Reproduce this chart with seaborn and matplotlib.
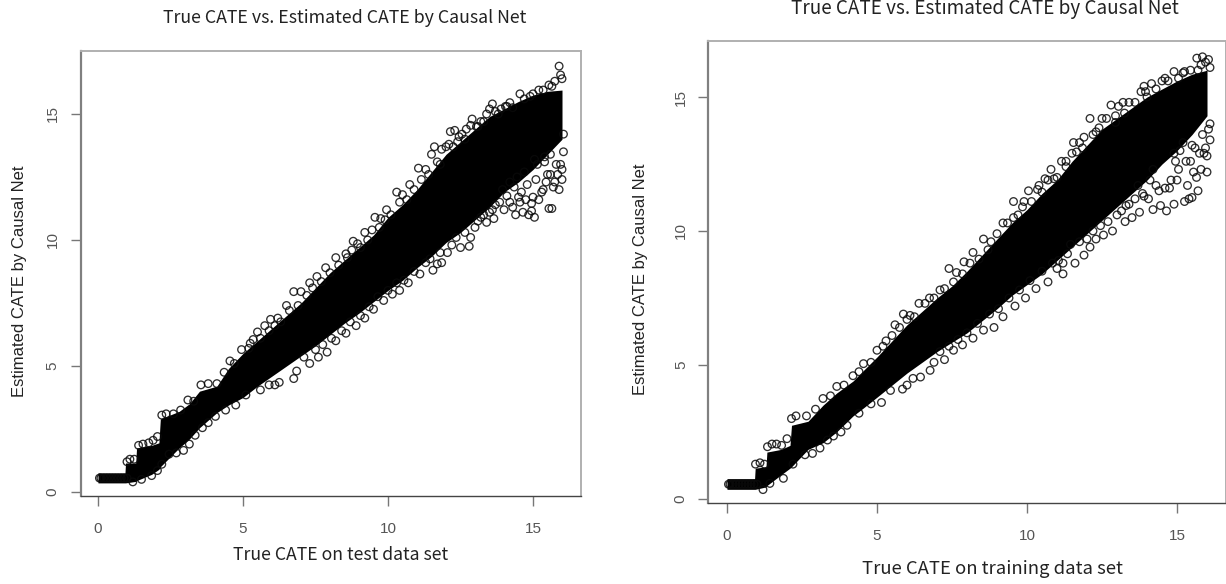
import matplotlib
matplotlib.use("Agg")
import matplotlib.pyplot as plt
import seaborn as sns

sns.set_style("white")
plt.rcParams['font.family'] = ['Noto Sans CJK SC', 'DejaVu Sans']

W, H = 1226, 584
TITLE = "True CATE vs. Estimated CATE by Causal Net"
YLABEL = "Estimated CATE by Causal Net"
XLABEL_TEST = "True CATE on test data set"
XLABEL_TRAIN = "True CATE on training data set"
TICKS_X = [0, 5, 10, 15]
TICKS_Y = [0, 5, 10, 15]

# Solid core of the cloud: true CATE, lower and upper estimate
test_core_x = [0.0,0.93,0.95,1.3,1.33,1.85,2.1,2.15,2.8,3.15,3.5,4.1,4.5,5,5.5,6,6.5,7,7.5,8,8.5,9,9.5,10,10.5,11,11.5,12,12.5,13,13.5,14,14.5,15,15.5,16]
test_core_lo = [.36,.36,.36,.42,.45,.7,.9,1.0,1.75,2.1,2.55,3.15,3.45,3.75,4.2,4.6,5.0,5.4,5.8,6.25,6.7,7.1,7.55,8.0,8.4,8.9,9.35,9.9,10.3,10.8,11.3,11.9,12.3,12.8,13.4,14.0]
test_core_hi = [.76,.76,1.15,1.15,1.75,1.85,1.95,2.9,3.2,3.5,4.0,4.2,4.9,5.5,6.0,6.5,7.0,7.5,8.1,8.7,9.2,9.7,10.2,10.9,11.4,12.0,12.7,13.4,13.9,14.4,14.9,15.2,15.5,15.75,15.9,15.95]

train_core_x = [0.0,.92,.94,1.3,1.33,1.8,2.1,2.15,2.7,3.2,3.65,4.2,4.55,5,5.5,6,6.5,7,7.5,8,8.5,9,9.5,10,10.5,11,11.5,12,12.5,13,13.5,14,14.5,15,15.5,16]
train_core_lo = [.36,.36,.36,.45,.5,.9,1.15,1.2,1.85,2.1,2.5,3.1,3.4,3.8,4.25,4.7,5.1,5.5,5.85,6.2,6.65,7.1,7.6,8.0,8.4,8.9,9.4,9.9,10.4,10.9,11.4,11.9,12.5,13.0,13.6,14.3]
train_core_hi = [.76,.76,1.15,1.2,1.75,1.85,2.0,2.75,2.9,3.5,3.95,4.4,4.8,5.3,5.9,6.5,7.0,7.5,7.95,8.5,9.1,9.7,10.3,10.8,11.4,11.9,12.6,13.2,13.8,14.2,14.6,15.0,15.3,15.6,15.85,16.0]

# Individually visible open circles around the core
test_x = [0.05,0.1,.2,.3,.4,.5,.6,.7,.8,.9,1.0,1.0,1.1,1.25,1.4,1.55,1.75,1.9,2.05,2.2,2.35,2.6,2.85,3.1,3.3,3.55,3.8,4.1,4.35,4.55,4.7,4.95,5.25,5.5,5.35,5.75,5.95,6.2,6.5,6.75,7,7.3,7.55,7.85,8.2,8.55,8.8,8.95,9.2,9.55,9.75,9.95,10.3,10.5,10.75,11.05,11.3,11.6,11.5,11.85,12.15,12.3,12.55,12.9,13.2,13.6,13.9,14.2,14.55,14.9,15.2,15.55,15.75,15.9,15.95,16.0,
          12.0,12.4,12.7,13.1,13.4,13.7,14.1,
          1.2,1.5,1.85,2.05,2.2,2.45,2.7,2.95,3.15,3.35,3.6,3.8,4.05,4.4,4.75,5.1,5.6,5.9,6.1,6.25,6.75,6.85,7.3,7.6,7.9,8.2,8.55,8.9,9.2,9.5,9.85,10.15,10.4,10.7,11.1,11.55,11.7,11.85,12.05,12.5,12.8,12.85,13.0,13.4,13.65,14.0,14.4,14.65,14.85,15.05,14.95,15.55,15.65,15.9,16.0,16.0,15.8,15.4,15.6,15.1,14.6,14.2,14.8,15.3,15.75,16.05,16.05,13.7,14.35,15.0,15.45,14.55,13.2,13.5]
test_y = [.55,.55,.55,.55,.55,.55,.55,.55,.55,.55,.55,1.2,1.3,1.3,1.85,1.9,1.95,2.05,2.2,3.05,3.1,3.1,3.25,3.65,3.6,4.25,4.3,4.3,4.75,5.2,5.1,5.65,5.9,6.35,6.05,6.6,6.85,6.9,7.4,7.95,7.95,8.3,8.55,8.9,9.3,9.45,9.95,9.85,10.3,10.9,10.85,11.2,11.9,11.8,12.2,12.85,12.8,13.7,13.4,13.6,14.3,14.35,14.2,14.8,14.7,15.4,15.2,15.45,15.8,15.7,15.95,16.15,16.3,16.9,16.55,16.4,
          13.7,13.9,14.4,14.5,15.0,15.1,15.3,
          .4,.5,.65,.85,1.1,1.5,1.55,1.65,1.9,2.25,2.55,2.75,3.0,3.25,3.45,3.85,4.05,4.25,4.25,4.35,4.5,4.8,5.1,5.35,5.55,6.0,6.3,6.6,6.9,7.25,7.6,7.85,8.0,8.3,8.65,8.8,9.05,9.1,9.5,9.7,9.75,10.1,10.5,10.7,10.85,11.2,11.0,11.1,11.0,10.9,11.15,11.25,11.25,12.0,12.4,12.8,13.0,13.1,12.6,12.4,11.9,11.5,12.2,11.9,12.3,13.5,14.2,11.4,12.1,11.7,12.3,11.5,10.9,11.1]

# Circles between the core and the outer ones
test_upper_x = [5.2,5.6,5.9,6.1,6.3,6.6,6.9,7.2,7.4,7.7,8.0,8.3,8.6,8.75,9.05,9.3,9.45,9.7,9.9,10.1,10.4,10.65,10.9,11.15,11.4,11.7,11.8,12.1,12.25,12.45,12.65,12.85,13.05,13.3,13.5,13.8,14.05,14.3,14.7,15.0,15.35,15.65]
test_upper_y = [5.7,6.1,6.4,6.6,6.75,7.2,7.4,7.8,8.1,8.35,8.7,9.0,9.3,9.6,9.7,10.0,10.4,10.5,10.8,11.0,11.5,11.6,12.0,12.4,12.6,13.1,13.0,13.8,13.7,14.1,14.0,14.55,14.5,14.7,15.2,15.0,15.3,15.25,15.6,15.8,15.95,16.1]
test_lower_x = [7.1,7.5,7.75,8.05,8.4,8.7,9.05,9.35,9.65,10.0,10.3,10.55,10.9,11.3,11.45,11.8,12.2,12.35,12.65,13.1,13.3,13.6,13.85,14.1,14.3,14.5,14.75,14.95,15.2,15.35,15.5,15.7,15.85,15.95,14.2,14.7,15.15,15.6,13.95,14.45,15.05,15.4]
test_lower_y = [5.35,5.65,5.85,6.1,6.4,6.75,7.0,7.35,7.75,8.0,8.3,8.4,8.75,9.1,9.25,9.5,9.8,10.1,10.3,10.75,11.0,11.2,11.5,11.75,11.3,11.7,11.6,11.45,11.6,12.0,12.6,12.1,12.6,13.0,12.3,12.7,13.0,13.4,12.0,12.5,13.2,13.3]

train_x = [0.05,0.1,.2,.3,.4,.5,.6,.7,.8,.9,1.0,.95,1.1,1.25,1.35,1.5,1.65,1.82,2.0,2.15,2.3,2.65,2.95,3.2,3.45,3.66,3.9,4.2,4.4,4.55,4.8,5.0,5.3,5.6,5.88,6.1,6.4,6.75,7.1,7.4,7.65,7.9,8.2,8.55,8.8,9.2,9.55,9.7,10.05,10.35,10.6,10.8,11.15,11.55,11.75,12.1,12.3,12.8,13.05,13.4,13.8,14.15,14.5,14.9,15.25,15.66,15.85,16.05,16.1,
           9.9,10.4,11.3,11.9,12.5,13.2,13.9,14.6,15.2,
           1.2,1.43,1.88,2.2,2.6,2.85,3.1,3.35,3.55,3.8,4.0,4.4,4.8,5.15,5.45,5.85,6.0,6.2,6.45,6.77,6.9,7.25,7.55,7.85,8.2,8.55,8.9,9.2,9.6,9.95,10.3,10.7,11.0,11.2,11.2,11.6,11.9,12.1,12.3,12.55,12.85,13.27,13.5,13.75,14.2,14.45,14.65,14.9,15.25,15.5,15.4,16.0,15.8,15.55,15.7,16.0,16.1,16.1,14.75,15.0,15.3,14.4,13.9,14.1,13.3,15.75,15.6,15.2,14.9]
train_y = [.55,.55,.55,.55,.55,.55,.55,.55,.55,.55,.55,1.3,1.35,1.3,1.95,2.05,2.05,2.0,2.25,3.0,3.1,3.1,3.35,3.75,3.85,4.2,4.25,4.6,4.75,5.05,5.1,5.55,5.9,6.5,6.9,6.85,7.3,7.5,7.8,8.6,8.45,8.85,9.2,9.7,9.6,10.3,11.1,10.6,11.5,11.55,11.95,12.3,12.6,13.3,13.3,14.2,13.7,14.7,14.65,14.8,15.2,15.5,15.6,15.95,15.95,16.45,16.5,16.4,16.1,
           11.1,11.7,12.4,13.5,14.2,14.8,15.4,15.7,15.9,
           .35,.58,.77,1.3,1.65,1.7,1.9,2.2,2.35,2.5,2.75,3.2,3.55,3.6,4.05,4.1,4.25,4.5,4.55,4.8,5.1,5.2,5.55,5.75,6.0,6.3,6.4,6.8,7.2,7.5,7.85,8.1,8.6,8.4,8.8,8.8,9.1,9.4,9.7,9.85,10.0,10.35,10.5,10.7,10.8,10.95,10.75,11.0,11.1,11.25,11.2,12.2,12.3,12.2,11.5,12.8,13.4,14.0,11.6,11.9,12.6,11.5,11.3,11.9,10.95,12.9,13.1,13.3,12.9]

train_upper_x = [5.2,5.5,5.75,6.0,6.25,6.6,6.9,7.25,7.55,7.85,8.1,8.4,8.7,9.0,9.35,9.55,9.85,10.15,10.5,10.7,11.0,11.3,11.5,11.85,12.2,12.4,12.65,12.95,13.25,13.6,13.95,14.3,14.7,15.05,15.45,15.8,15.95,15.7,10.9,11.65,12.95,14.0]
train_upper_y = [5.7,6.1,6.4,6.7,6.8,7.3,7.5,7.85,8.1,8.4,8.8,8.95,9.3,9.9,10.3,10.5,10.9,11.1,11.45,11.9,12.0,12.6,12.9,13.1,13.6,13.85,14.2,14.3,14.4,14.8,15.2,15.3,15.6,15.7,16.0,16.2,16.3,16.0,11.95,12.95,14.05,15.0]
train_lower_x = [7.1,7.4,7.7,8.0,8.35,8.75,9.05,9.4,9.75,10.1,10.5,10.85,11.05,11.35,11.45,11.75,12.0,12.2,12.45,12.7,13.0,13.15,13.4,13.6,13.85,14.05,14.3,14.6,14.8,15.05,15.35,15.65,15.9,15.95,14.95,15.45,15.85,14.2,13.7,15.1,15.5,16.05]
train_lower_y = [5.5,5.7,5.95,6.2,6.55,6.9,7.1,7.5,7.8,8.15,8.5,8.8,8.9,9.15,9.5,9.6,9.7,10.0,10.2,10.35,10.6,10.75,11.0,11.2,11.4,11.2,11.7,11.6,11.9,12.3,11.7,12.0,12.9,13.1,12.6,12.6,13.6,12.3,11.7,13.0,13.2,13.8]


def panel(box, core_x, core_lo, core_hi, pts_x, pts_y, xlim, ylim, xlabel,
          title_px, title_size, xlabel_px, xlabel_size, ylabel_px, xtick_pad, ytick_pad):
    left, right, top, bottom = box
    ax = fig.add_axes([left / W, 1 - bottom / H, (right - left) / W, (bottom - top) / H])
    ax.fill_between(core_x, core_lo, core_hi, color="black", linewidth=0, zorder=2)
    sns.scatterplot(x=pts_x, y=pts_y, ax=ax, marker="o", s=30, facecolor="none",
                    edgecolor="#0a0a0a", linewidth=0.95, alpha=0.85, zorder=3)
    ax.set_xlim(*xlim)
    ax.set_ylim(*ylim)
    ax.set_xticks(TICKS_X)
    ax.set_yticks(TICKS_Y)
    ax.tick_params(axis="x", length=7.5, width=1, color="#777777", labelcolor="#555555",
                   labelsize=11, pad=xtick_pad, bottom=True)
    ax.tick_params(axis="y", length=7.5, width=1, color="#777777", labelcolor="#555555",
                   labelsize=11, pad=ytick_pad, left=True)
    for t in ax.get_yticklabels():
        t.set_rotation(90)
        t.set_va("center")
        t.set_fontfamily("Liberation Sans")
    for t in ax.get_xticklabels():
        t.set_fontfamily("Liberation Sans")
    for side, c, lw in [("left", "#808080", 1.6), ("bottom", "#444444", 1.0),
                        ("top", "#b0b0b0", 1.4), ("right", "#b0b0b0", 1.4)]:
        ax.spines[side].set_color(c)
        ax.spines[side].set_linewidth(lw)
    ax.set_title(TITLE, fontsize=title_size, color="#222222", pad=0,
                 x=(title_px[0] - left) / (right - left),
                 y=(bottom - title_px[1]) / (bottom - top), va="center")
    ax.set_xlabel(xlabel, fontsize=xlabel_size, color="#222222")
    ax.xaxis.set_label_coords((xlabel_px[0] - left) / (right - left),
                              (bottom - xlabel_px[1]) / (bottom - top))
    ax.xaxis.label.set_va("center")
    ax.set_ylabel(YLABEL, fontsize=12, color="#222222", family="Liberation Sans")
    ax.yaxis.set_label_coords((ylabel_px[0] - left) / (right - left),
                              (bottom - ylabel_px[1]) / (bottom - top))
    ax.yaxis.label.set_va("center")
    return ax


fig = plt.figure(figsize=(W / 100, H / 100), dpi=100)
panel((81, 581, 51, 496), test_core_x, test_core_lo, test_core_hi,
      test_x + test_upper_x + test_lower_x, test_y + test_upper_y + test_lower_y,
      (-0.586, 16.655), (-0.16, 17.5), XLABEL_TEST,
      (345, 18), 12.8, (341, 555), 12.7, (20, 281), 11, 8)
panel((708, 1226, 41, 503), train_core_x, train_core_lo, train_core_hi,
      train_x + train_upper_x + train_lower_x, train_y + train_upper_y + train_lower_y,
      (-0.633, 16.633), (-0.15, 17.09), XLABEL_TRAIN,
      (985, 9), 13.6, (992, 569), 13.3, (640, 279), 11, 7)
fig.savefig("out.png", dpi=100)
